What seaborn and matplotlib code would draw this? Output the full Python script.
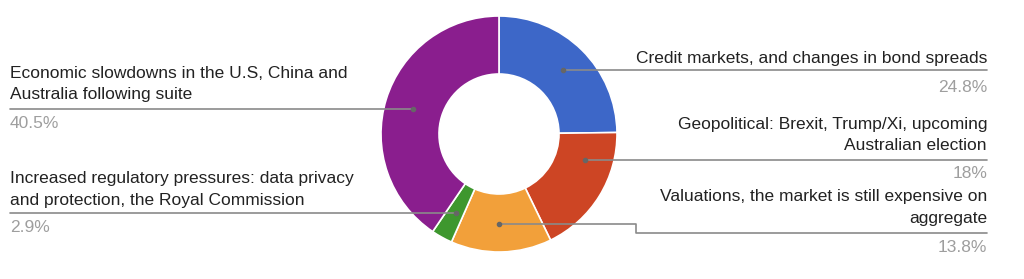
import numpy as np
import matplotlib
matplotlib.use("Agg")
import matplotlib.pyplot as plt
import seaborn as sns

# ---- data ----
categories = [
    "Credit markets, and changes in bond spreads",
    "Geopolitical: Brexit, Trump/Xi, upcoming\nAustralian election",
    "Valuations, the market is still expensive on\naggregate",
    "Increased regulatory pressures: data privacy\nand protection, the Royal Commission",
    "Economic slowdowns in the U.S, China and\nAustralia following suite",
]
values = [24.8, 18.0, 13.8, 2.9, 40.5]
pct_labels = ["24.8%", "18%", "13.8%", "2.9%", "40.5%"]
colors = ["#3D67C8", "#CD4524", "#F2A03A", "#3E972E", "#8A1E8E"]

# ---- layout (pixel space) ----
W, H = 1024, 279
CX, CY = 499, 134
R_OUT, R_IN = 118, 60
R_DOT = 90
anchor_ang = [45, -17, -90, -118.6, 163.8]
side = ["right", "right", "right", "left", "left"]
text_y = [59, 124, 196, 178, 73]
pct_y = [87, 173, 247, 228, 124]
step = [None, None, (636, 233), None, None]
LEFT_X, RIGHT_X = 10, 987
LINE_SP = 22

sns.set_theme(style="white")
plt.rcParams["font.family"] = ["Liberation Sans", "DejaVu Sans"]

fig = plt.figure(figsize=(W / 100, H / 100), dpi=100)
ax = fig.add_axes([0, 0, 1, 1])

Y = lambda y: H - y

ax.pie(values, colors=colors, startangle=90, counterclock=False,
       center=(CX, Y(CY)), radius=R_OUT, frame=True,
       wedgeprops=dict(width=R_OUT - R_IN, edgecolor="white", linewidth=1.2))
ax.set_xlim(0, W)
ax.set_ylim(0, H)
ax.set_axis_off()

FS = 12.5
line_col = "#8a8a8a"
for i, cat in enumerate(categories):
    a = np.deg2rad(anchor_ang[i])
    dx, dy = CX + R_DOT * np.cos(a), Y(CY) + R_DOT * np.sin(a)
    if side[i] == "right":
        if step[i] is None:
            xs, ys = [dx, RIGHT_X], [dy, dy]
        else:
            sx, sy = step[i]
            xs = [dx, sx, sx, RIGHT_X]
            ys = [dy, dy, Y(sy), Y(sy)]
        ax.plot(xs, ys, color=line_col, lw=1.2, zorder=3)
        tx, ha = RIGHT_X, "right"
    else:
        ax.plot([LEFT_X, dx], [dy, dy], color=line_col, lw=1.2, zorder=3)
        tx, ha = LEFT_X, "left"
    ax.plot([dx], [dy], marker="o", ms=3, color="#666666", zorder=4)
    for k, ln in enumerate(cat.split("\n")):
        ax.text(tx, Y(text_y[i] + k * LINE_SP), ln, ha=ha, va="center",
                fontsize=FS, color="#222222")
    ax.text(tx, Y(pct_y[i]), pct_labels[i], ha=ha, va="center",
            fontsize=FS, color="#9e9e9e")

fig.savefig("out.png", dpi=100, facecolor="white")
